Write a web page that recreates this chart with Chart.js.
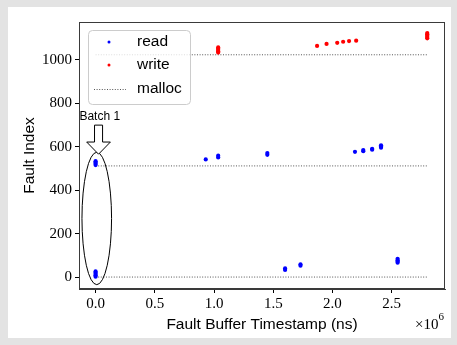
<!DOCTYPE html>
<html><head><meta charset="utf-8">
<script src="https://cdn.jsdelivr.net/npm/chart.js@4"></script>
<style>html,body{margin:0;padding:0;background:#e3e3e3;overflow:hidden;}#c{position:absolute;left:0;top:0;}</style>
</head><body><canvas id="c" width="457" height="345"></canvas>
<script>
// ---- data (x in ns, y = fault index) ----
const readX  = [0,0,0,0, 0,0,0,0,0, 930000, 1035000,1035000, 1450000,1450000, 1600000,1600000, 1730000,1730000, 2190000, 2260000,2260000, 2335000,2335000, 2410000,2410000,2410000, 2550000,2550000,2550000,2550000];
const readY  = [516,522,528,534, 2,8,14,20,26, 542, 551,559, 563,571, 33,40, 52,59, 577, 580,585, 587,591, 596,602,607, 66,72,78,84];
const writeX = [1035000,1035000,1035000,1035000,1035000, 1870000, 1950000, 2040000, 2090000, 2140000, 2200000, 2800000,2800000,2800000,2800000,2800000];
const writeY = [1034,1040,1046,1052,1058, 1065, 1074, 1079, 1084, 1087, 1089, 1100,1106,1112,1118,1124];
const mallocY = [1024, 512, 0];
const mallocStart = [0, 0, 0];
const mallocEnd = [2800000, 2800000, 2800000];
const xTickValues = [0, 500000, 1000000, 1500000, 2000000, 2500000];
const xTickLabels = ['0.0','0.5','1.0','1.5','2.0','2.5'];
const yTickValues = [0, 200, 400, 600, 800, 1000];
const yTickLabels = ['0','200','400','600','800','1000'];
const legendLabels = ['read','write','malloc'];

const toPts = (xs, ys) => xs.map((x, i) => ({x: x, y: ys[i]}));

const datasets = [
  {type:'scatter', label:'read', data: toPts(readX, readY), backgroundColor:'#0000ff', pointRadius:2.1, pointBorderWidth:0, order:0},
  {type:'scatter', label:'write', data: toPts(writeX, writeY), backgroundColor:'#ff0000', pointRadius:2.1, pointBorderWidth:0, order:0}
];
mallocY.forEach((y, i) => {
  datasets.push({type:'line', label:'malloc', data:[{x:mallocStart[i], y:y},{x:mallocEnd[i], y:y}],
    borderColor:'#555', borderWidth:1, borderDash:[1,1.6], pointRadius:0, fill:false, order:1});
});

const SERIF = "'Liberation Serif', 'DejaVu Serif', serif";
const SANS = "'Liberation Sans', Arial, sans-serif";

const bgPlugin = {
  id:'bg',
  beforeDraw(chart){
    const ctx = chart.ctx;
    ctx.save();
    ctx.fillStyle = '#e3e3e3';
    ctx.fillRect(0,0,chart.width,chart.height);
    ctx.fillStyle = '#ffffff';
    ctx.fillRect(8,7,443,331);
    ctx.restore();
  }
};

// annotation geometry in data units
const batchEllipse = {cx:10000, cy:270, rx:125000, ry:305};
const batchArrow = {x:25000, tipY:566, headY:622, topY:700, shaftHalf:34000, headHalf:100000};
const batchLabel = {x:35000, y:740, text:'Batch 1'};

const annoPlugin = {
  id:'anno',
  afterDatasetsDraw(chart){
    const {ctx, scales:{x, y}, chartArea:a} = chart;
    ctx.save();
    // frame
    ctx.strokeStyle = '#3a3a3a';
    ctx.lineWidth = 1;
    ctx.strokeRect(a.left+0.5, a.top+0.5, a.right-a.left-1, a.bottom-a.top-1);
    // ellipse
    const ecx = x.getPixelForValue(batchEllipse.cx), ecy = y.getPixelForValue(batchEllipse.cy);
    const erx = x.getPixelForValue(batchEllipse.cx + batchEllipse.rx) - ecx;
    const ery = ecy - y.getPixelForValue(batchEllipse.cy + batchEllipse.ry);
    ctx.beginPath();
    ctx.ellipse(ecx, ecy, erx, ery, 0, 0, Math.PI*2);
    ctx.strokeStyle = '#000';
    ctx.stroke();
    // arrow
    const ax = x.getPixelForValue(batchArrow.x);
    const sh = x.getPixelForValue(batchArrow.x + batchArrow.shaftHalf) - ax;
    const hh = x.getPixelForValue(batchArrow.x + batchArrow.headHalf) - ax;
    const tipY = y.getPixelForValue(batchArrow.tipY), headY = y.getPixelForValue(batchArrow.headY), topY = y.getPixelForValue(batchArrow.topY);
    ctx.beginPath();
    ctx.moveTo(ax - sh, topY);
    ctx.lineTo(ax + sh, topY);
    ctx.lineTo(ax + sh, headY);
    ctx.lineTo(ax + hh, headY);
    ctx.lineTo(ax, tipY);
    ctx.lineTo(ax - hh, headY);
    ctx.lineTo(ax - sh, headY);
    ctx.closePath();
    ctx.fillStyle = '#fff';
    ctx.fill();
    ctx.stroke();
    // label
    ctx.fillStyle = '#000';
    ctx.font = '12px ' + SANS;
    ctx.textAlign = 'center';
    ctx.textBaseline = 'middle';
    ctx.fillText(batchLabel.text, x.getPixelForValue(batchLabel.x), y.getPixelForValue(batchLabel.y));

    // legend
    const lx = a.left + 9, ly = a.top + 8, lw = 102, lh = 74;
    ctx.beginPath();
    ctx.roundRect(lx+0.5, ly+0.5, lw, lh, 4);
    ctx.fillStyle = 'rgba(255,255,255,0.8)';
    ctx.fill();
    ctx.strokeStyle = '#cccccc';
    ctx.stroke();
    const rows = [ly+12, ly+35, ly+59];
    ctx.fillStyle = '#0000ff';
    ctx.beginPath(); ctx.arc(lx+21, rows[0], 1.5, 0, Math.PI*2); ctx.fill();
    ctx.fillStyle = '#ff0000';
    ctx.beginPath(); ctx.arc(lx+21, rows[1], 1.5, 0, Math.PI*2); ctx.fill();
    ctx.strokeStyle = '#555';
    ctx.setLineDash([1,1.6]);
    ctx.beginPath(); ctx.moveTo(lx+6, rows[2]+0.5); ctx.lineTo(lx+38, rows[2]+0.5); ctx.stroke();
    ctx.setLineDash([]);
    ctx.fillStyle = '#000';
    ctx.font = '15.5px ' + SANS;
    ctx.textAlign = 'left';
    ctx.textBaseline = 'middle';
    legendLabels.forEach((t, i) => ctx.fillText(t, lx+49, rows[i]));

    // x10^6 offset text
    ctx.font = '11px ' + SERIF;
    ctx.textAlign = 'right';
    ctx.textBaseline = 'alphabetic';
    ctx.fillText('6', a.right - 1, 320);
    const w6 = ctx.measureText('6').width;
    ctx.font = '15px ' + SERIF;
    ctx.fillText('\u00d710', a.right - 1 - w6, 329);
    ctx.restore();
  }
};

new Chart(document.getElementById('c'), {
  data: {datasets},
  options: {
    responsive:false,
    devicePixelRatio:1,
    animation:false,
    layout:{padding:{left:0, right:12, top:22, bottom:0}},
    plugins:{legend:{display:false}, tooltip:{enabled:false}},
    scales:{
      x:{
        type:'linear', position:'bottom', min:-140000, max:2950000,
        afterBuildTicks: s => { s.ticks = xTickValues.map(v => ({value:v})); },
        afterFit: s => { s.height = 56; },
        ticks:{callback:(v) => xTickLabels[xTickValues.indexOf(v)], color:'#000', font:{family:SERIF, size:15}, padding:2, maxRotation:0, autoSkip:false},
        grid:{drawOnChartArea:false, drawTicks:true, tickLength:4, color:'#000'},
        border:{display:true, color:'#3a3a3a'},
        title:{display:true, text:'Fault Buffer Timestamp (ns)', color:'#000', font:{family:SANS, size:15.5}, padding:{top:0, bottom:11}}
      },
      y:{
        type:'linear', position:'left', min:-55, max:1175,
        afterBuildTicks: s => { s.ticks = yTickValues.map(v => ({value:v})); },
        afterFit: s => { s.width = 79; },
        ticks:{callback:(v) => yTickLabels[yTickValues.indexOf(v)], color:'#000', font:{family:SERIF, size:15}, padding:3, autoSkip:false},
        grid:{drawOnChartArea:false, drawTicks:true, tickLength:4, color:'#000'},
        border:{display:true, color:'#3a3a3a'},
        title:{display:true, text:'Fault Index', color:'#000', font:{family:SANS, size:15.5}, padding:{top:20, bottom:0}}
      }
    }
  },
  plugins:[bgPlugin, annoPlugin]
});
</script>
</body></html>
